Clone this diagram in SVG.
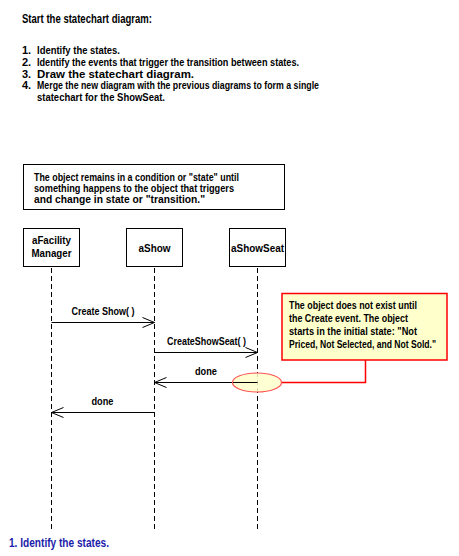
<svg xmlns="http://www.w3.org/2000/svg" width="459" height="556" viewBox="0 0 459 556">
<style>
text{font-family:"Liberation Sans",Arial,sans-serif;font-weight:bold;font-size:11px;fill:#000}
.h{font-size:12.5px}
.c{text-anchor:middle}
.n{font-size:10.5px}
.box{fill:#fff;stroke:#000;stroke-width:1}
.life{stroke:#000;stroke-width:1;stroke-dasharray:5,3;fill:none}
.msg{stroke:#000;stroke-width:1;fill:none}
.blue{fill:#1c1caa;font-size:12.5px}
</style>
<defs>
<marker id="open" viewBox="0 0 14 12" refX="13" refY="6" markerWidth="14" markerHeight="12" markerUnits="userSpaceOnUse" orient="auto">
<path d="M1,1 L13,6 L1,11" fill="none" stroke="#000" stroke-width="1"/>
</marker>
</defs>
<rect width="459" height="556" fill="#fff"/>
<g id="header">
<text class="h" x="22" y="23" textLength="130" lengthAdjust="spacingAndGlyphs">Start the statechart diagram:</text>
<text x="22" y="54">1.</text>
<text x="37" y="54" textLength="83" lengthAdjust="spacingAndGlyphs">Identify the states.</text>
<text x="22" y="66">2.</text>
<text x="37" y="66" textLength="262" lengthAdjust="spacingAndGlyphs">Identify the events that trigger the transition between states.</text>
<text x="22" y="77.5">3.</text>
<text x="37" y="77.5" textLength="157" lengthAdjust="spacingAndGlyphs">Draw the statechart diagram.</text>
<text x="22" y="89">4.</text>
<text x="37" y="89" textLength="282" lengthAdjust="spacingAndGlyphs">Merge the new diagram with the previous diagrams to form a single</text>
<text x="37" y="100.5" textLength="128" lengthAdjust="spacingAndGlyphs">statechart for the ShowSeat.</text>
</g>
<g id="intro-note">
<rect class="box" x="23.5" y="164.5" width="261" height="45"/>
<text x="34" y="181" textLength="205" lengthAdjust="spacingAndGlyphs">The object remains in a condition or "state" until</text>
<text x="34" y="192" textLength="200" lengthAdjust="spacingAndGlyphs">something happens to the object that triggers</text>
<text x="34" y="203" textLength="171" lengthAdjust="spacingAndGlyphs">and change in state or "transition."</text>
</g>
<g id="connectors">
<line class="life" x1="51.5" y1="268" x2="51.5" y2="531"/>
<line class="life" x1="154.5" y1="268" x2="154.5" y2="531"/>
<line class="life" x1="257.5" y1="268" x2="257.5" y2="531"/>
<line class="msg" x1="51.5" y1="322.5" x2="154.5" y2="322.5" marker-end="url(#open)"/>
<text class="c" x="103" y="315" textLength="63" lengthAdjust="spacingAndGlyphs">Create Show( )</text>
<line class="msg" x1="154.5" y1="352.5" x2="257.5" y2="352.5" marker-end="url(#open)"/>
<text class="c" x="206.5" y="345" textLength="79" lengthAdjust="spacingAndGlyphs">CreateShowSeat( )</text>
<line class="msg" x1="257.5" y1="382.5" x2="154.5" y2="382.5" marker-end="url(#open)"/>
<text class="c" x="206" y="374.5" textLength="22" lengthAdjust="spacingAndGlyphs">done</text>
<line class="msg" x1="154.5" y1="412.5" x2="51.5" y2="412.5" marker-end="url(#open)"/>
<text class="c" x="102.5" y="404.5" textLength="22" lengthAdjust="spacingAndGlyphs">done</text>
<polyline points="282,382.5 365.5,382.5 365.5,360" fill="none" stroke="#ff0000" stroke-width="1.5"/>
</g>
<g id="aFacilityManager">
<rect class="box" x="23.5" y="228.5" width="56" height="38"/>
<text class="c" x="51.5" y="244" textLength="39" lengthAdjust="spacingAndGlyphs">aFacility</text>
<text class="c" x="51.5" y="257" textLength="40" lengthAdjust="spacingAndGlyphs">Manager</text>
</g>
<g id="aShow">
<rect class="box" x="126.5" y="228.5" width="56" height="38"/>
<text class="c" x="154.5" y="252" textLength="32" lengthAdjust="spacingAndGlyphs">aShow</text>
</g>
<g id="aShowSeat">
<rect class="box" x="229.5" y="228.5" width="56" height="38"/>
<text class="c" x="257.5" y="252" textLength="53" lengthAdjust="spacingAndGlyphs">aShowSeat</text>
</g>
<g id="create-marker">
<ellipse cx="257" cy="382.5" rx="24.5" ry="9.5" fill="#ffffcc" fill-opacity="0.85" stroke="#ff5555" stroke-width="1.2"/>
<line x1="233" y1="382.5" x2="257.5" y2="382.5" stroke="#000" stroke-width="1"/>
</g>
<g id="create-note">
<rect x="282" y="293.5" width="165" height="66.5" fill="#ffffcc" stroke="#ff0000" stroke-width="1.5"/>
<text x="289" y="309" textLength="128" lengthAdjust="spacingAndGlyphs">The object does not exist until</text>
<text x="289" y="322" textLength="119" lengthAdjust="spacingAndGlyphs">the Create event. The object</text>
<text x="289" y="335" textLength="128" lengthAdjust="spacingAndGlyphs">starts in the initial state:  "Not</text>
<text class="n" x="289" y="348" textLength="147" lengthAdjust="spacingAndGlyphs">Priced, Not Selected, and Not Sold."</text>
</g>
<g id="caption">
<text class="blue" x="9" y="547" textLength="100" lengthAdjust="spacingAndGlyphs">1.  Identify the states.</text>
</g>
</svg>
